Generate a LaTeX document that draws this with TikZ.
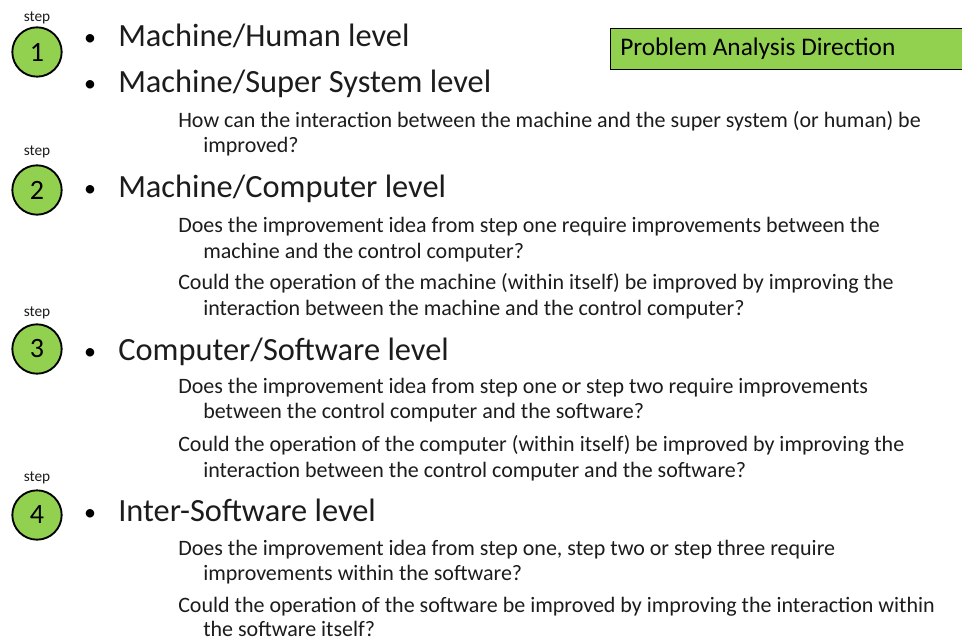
\documentclass[tikz,border=0pt]{standalone}
\usepackage{fontspec}
\setmainfont{Carlito}
\usetikzlibrary{positioning}
\definecolor{stepgreen}{HTML}{92D050}
\definecolor{inkgrey}{HTML}{1C1C1C}

\begin{document}
\begin{tikzpicture}[x=0.75pt,y=-0.75pt,
  stepnum/.style={draw,line width=1.4pt,circle,fill=stepgreen,minimum size=37pt,inner sep=0pt,font=\fontsize{21}{24}\selectfont},
  steptag/.style={anchor=base,inner sep=0pt,font=\fontsize{11.5}{13}\selectfont,text=inkgrey},
  dot/.style={anchor=base,inner sep=0pt,font=\fontsize{18}{22}\selectfont},
  level/.style={anchor=base west,inner sep=0pt,font=\fontsize{24.3}{28}\selectfont,text=inkgrey},
  question/.style={anchor=base west,inner sep=0pt,font=\fontsize{16.5}{19}\selectfont,text=inkgrey}]
\useasboundingbox (0,0) rectangle (962,641);
\fill[white] (0,0) rectangle (962,641);

% direction box
\node[draw,line width=0.8pt,fill=stepgreen,minimum width=266pt,minimum height=31pt,anchor=north west,inner sep=0pt] (dirbox) at (610,28) {};
\node[anchor=base west,inner sep=0pt,font=\fontsize{19}{22}\selectfont] (dirtext) at (620,56) {Problem Analysis Direction};

% step 1
\node[steptag] (tag1) at (37,22) {step};
\node[stepnum] (s1) at (37,52) {1};
\node[dot] (b1a) at (90,46) {•};
\node[level] (h1a) at (118,47) {Machine/Human level};
\node[dot] (b1b) at (90,92) {•};
\node[level] (h1b) at (118,93) {Machine/Super System level};
\node[question] (q1a) at (178,128) {How can the interaction between the machine and the super system (or human) be};
\node[question] (q1b) at (203,153) {improved?};

% step 2
\node[steptag] (tag2) at (37,156) {step};
\node[stepnum] (s2) at (37,190) {2};
\node[dot] (b2) at (90,197) {•};
\node[level] (h2) at (118,198) {Machine/Computer level};
\node[question] (q2a) at (178,233) {Does the improvement idea from step one require improvements between the};
\node[question] (q2b) at (203,258) {machine and the control computer?};
\node[question] (q2c) at (178,290) {Could the operation of the machine (within itself) be improved by improving the};
\node[question] (q2d) at (203,315) {interaction between the machine and the control computer?};

% step 3
\node[steptag] (tag3) at (37,316) {step};
\node[stepnum] (s3) at (37,349) {3};
\node[dot] (b3) at (90,359) {•};
\node[level] (h3) at (118,360) {Computer/Software level};
\node[question] (q3a) at (178,393) {Does the improvement idea from step one or step two require improvements};
\node[question] (q3b) at (203,418) {between the control computer and the software?};
\node[question] (q3c) at (178,451) {Could the operation of the computer (within itself) be improved by improving the};
\node[question] (q3d) at (203,477) {interaction between the control computer and the software?};

% step 4
\node[steptag] (tag4) at (37,481) {step};
\node[stepnum] (s4) at (37,515) {4};
\node[dot] (b4) at (90,520) {•};
\node[level] (h4) at (118,521) {Inter-Software level};
\node[question] (q4a) at (178,555) {Does the improvement idea from step one, step two or step three require};
\node[question] (q4b) at (203,580) {improvements within the software?};
\node[question] (q4c) at (178,612) {Could the operation of the software be improved by improving the interaction within};
\node[question] (q4d) at (203,636) {the software itself?};
\end{tikzpicture}
\end{document}
